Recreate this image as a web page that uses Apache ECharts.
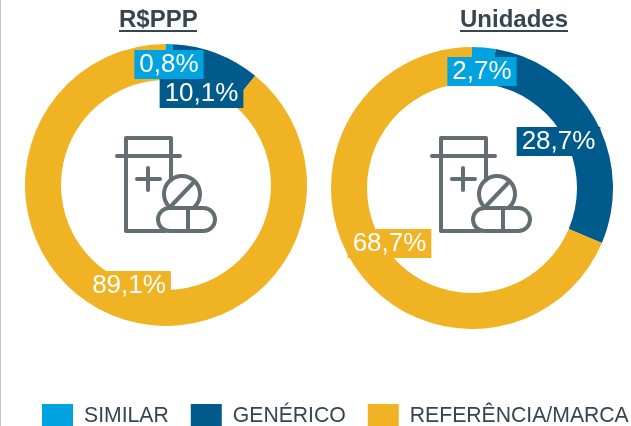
<!DOCTYPE html>
<html>
<head>
<meta charset="utf-8">
<style>
  html, body { margin: 0; padding: 0; background: #fff; }
  #chart { width: 631px; height: 426px; }
</style>
<script src="https://cdn.jsdelivr.net/npm/echarts@6/dist/echarts.min.js"></script>
</head>
<body>
<div id="chart"></div>
<script>
const categories = ['SIMILAR', 'GENÉRICO', 'REFERÊNCIA/MARCA'];
const valoresPPP = [0.8, 10.1, 89.1];
const valoresUnidades = [2.7, 28.7, 68.7];
const colors = ['#00a3e0', '#005a8b', '#f0b323'];

const textColor = '#36454f';
const iconColor = '#636e72';
const fontFamily = '"Liberation Sans", Arial, sans-serif';

// centros dos rótulos, na ordem das categorias
const labelsPPP = [[169, 64.5], [201.5, 93.5], [129, 285.5]];
const labelsUnidades = [[482, 71.5], [558.5, 141.5], [389.5, 243.5]];

function donut(name, values, center, labelPos) {
  return {
    name,
    type: 'pie',
    center,
    radius: [105, 141],
    startAngle: 90,
    clockwise: true,
    silent: true,
    label: {
      show: true,
      position: 'inside',
      color: '#fff',
      fontFamily,
      fontSize: 26,
      lineHeight: 29,
      padding: [0, 5],
      formatter: (p) => p.value.toFixed(1).replace('.', ',') + '%',
    },
    labelLine: { show: false },
    labelLayout: (p) => ({
      x: labelPos[p.dataIndex][0],
      y: labelPos[p.dataIndex][1],
      align: 'center',
      verticalAlign: 'middle',
    }),
    data: categories.map((c, i) => ({
      name: c,
      value: values[i],
      itemStyle: { color: colors[i] },
      label: { backgroundColor: colors[i] },
    })),
  };
}

// frasco com comprimidos, dx desloca o desenho
function icon(dx) {
  const stroke = { stroke: iconColor, lineWidth: 4, fill: null, lineCap: 'round', lineJoin: 'round' };
  const line = (x1, y1, x2, y2) => ({
    type: 'line', shape: { x1: x1 + dx, y1, x2: x2 + dx, y2 }, style: stroke,
  });
  return [
    {
      type: 'polyline',
      shape: { points: [[171, 180], [171, 138], [126, 138], [126, 231], [165, 231]].map((p) => [p[0] + dx, p[1]]) },
      style: stroke,
    },
    line(117, 156, 180, 156),
    line(137, 179, 160, 179),
    line(148, 168, 148, 190),
    { type: 'circle', shape: { cx: 182 + dx, cy: 194, r: 18 }, style: stroke },
    line(172, 205, 193, 183),
    {
      type: 'rect',
      shape: { x: 158 + dx, y: 208, width: 57, height: 23, r: 11.5 },
      style: { ...stroke, fill: '#fff' },
    },
    line(188, 208, 188, 231),
  ];
}

const titleStyle = { color: textColor, fontFamily, fontSize: 24, fontWeight: 'bold' };

const chart = echarts.init(document.getElementById('chart'));
chart.setOption({
  animation: false,
  title: [
    { text: 'R$PPP', left: 119, top: 8, padding: 0, textStyle: titleStyle },
    { text: 'Unidades', left: 460, top: 8, padding: 0, textStyle: titleStyle },
  ],
  legend: {
    data: categories,
    left: 42,
    top: 404,
    width: 640,
    padding: 0,
    itemWidth: 31,
    itemHeight: 24,
    itemGap: 22,
    icon: 'rect',
    selectedMode: false,
    textStyle: { color: textColor, fontFamily, fontSize: 21.2, padding: [2, 0, 0, 6] },
  },
  series: [
    donut('R$PPP', valoresPPP, [166, 185], labelsPPP),
    donut('Unidades', valoresUnidades, [472, 188], labelsUnidades),
  ],
  graphic: [
    { type: 'line', shape: { x1: 0.5, y1: 0, x2: 0.5, y2: 426 }, style: { stroke: '#c4c4c4', lineWidth: 1 } },
    { type: 'line', shape: { x1: 119, y1: 31, x2: 197, y2: 31 }, style: { stroke: textColor, lineWidth: 2 } },
    { type: 'line', shape: { x1: 460, y1: 31, x2: 568, y2: 31 }, style: { stroke: textColor, lineWidth: 2 } },
    ...icon(0),
    ...icon(315),
  ],
});
</script>
</body>
</html>
